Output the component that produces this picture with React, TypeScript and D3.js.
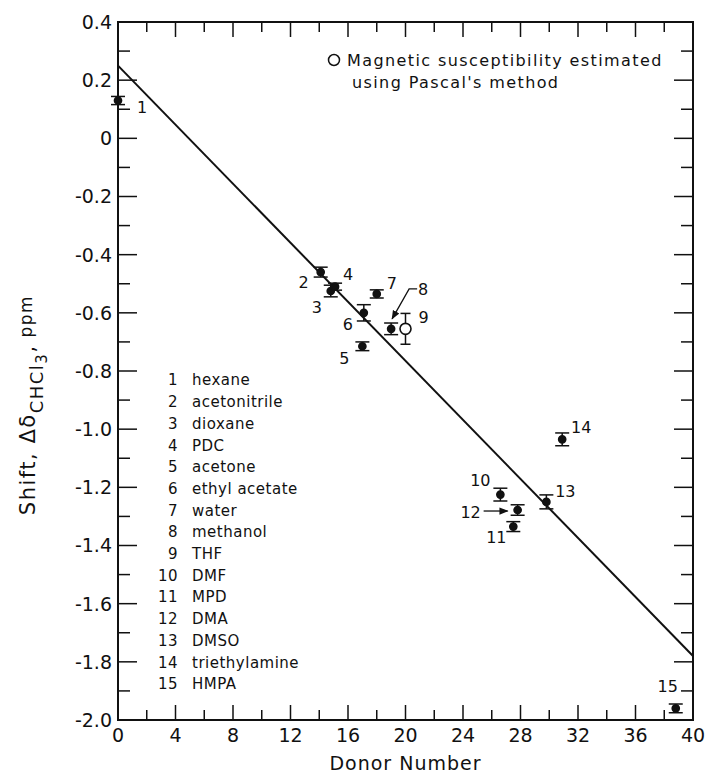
import React from "react";
import * as d3 from "d3";

const solvents = [
  "hexane", "acetonitrile", "dioxane", "PDC", "acetone", "ethyl acetate", "water",
  "methanol", "THF", "DMF", "MPD", "DMA", "DMSO", "triethylamine", "HMPA",
];
const donorNumbers = [0, 14.1, 14.8, 15.1, 17.0, 17.1, 18.0, 19.0, 20.0, 26.6, 27.5, 27.8, 29.8, 30.9, 38.8];
const shifts = [0.13, -0.46, -0.525, -0.51, -0.715, -0.6, -0.535, -0.655, -0.655, -1.225, -1.335, -1.278, -1.25, -1.035, -1.96];
const shiftErrors = [0.014, 0.017, 0.02, 0.012, 0.015, 0.028, 0.014, 0.02, 0.053, 0.022, 0.017, 0.018, 0.024, 0.022, 0.015];
// THF: susceptibility from Pascal's method (open symbol)
const pascalEstimated = ["THF"];

// least squares line drawn through the points
const fitDonor = [0, 40];
const fitShift = [0.25, -1.78];

const xTickLabels = ["0", "4", "8", "12", "16", "20", "24", "28", "32", "36", "40"];
const yTickLabels = ["0.4", "0.2", "0", "-0.2", "-0.4", "-0.6", "-0.8", "-1.0", "-1.2", "-1.4", "-1.6", "-1.8", "-2.0"];

// where each point number sits relative to its point (px)
const labelOffsets: [number, number][] = [
  [24, 7], [-17, 10], [-14, 16], [13, -12], [-18, 12], [-16, 11], [15, -11],
  [32, -40], [18, -12], [-20, -14], [-17, 11], [-47, 2], [19, -11], [19, -12], [-8, -22],
];

const W = 713;
const H = 780;
const margin = { top: 22, right: 20, bottom: 60, left: 118 };
const font = "'DejaVu Sans', sans-serif";

export default function App() {
  const x = d3.scaleLinear().domain([0, 40]).range([margin.left, W - margin.right]);
  const y = d3.scaleLinear().domain([-2.0, 0.4]).range([H - margin.bottom, margin.top]);
  const [x0, x1] = x.range();
  const [y0, y1] = y.range();

  const points = solvents.map((name, i) => ({
    name,
    n: i + 1,
    dn: donorNumbers[i],
    shift: shifts[i],
    err: shiftErrors[i],
    open: pascalEstimated.includes(name),
    off: labelOffsets[i],
  }));

  const line = d3
    .line<number>()
    .x((d) => x(d))
    .y((_, i) => y(fitShift[i]));

  const xTicks = x.ticks(20);
  const yTicks = y.ticks(24);
  const isMajorX = (v: number) => Math.abs(v / 4 - Math.round(v / 4)) < 1e-6;
  const isMajorY = (v: number) => Math.abs(v / 0.2 - Math.round(v / 0.2)) < 1e-6;

  const p8 = points[7];
  const p12 = points[11];

  return (
    <svg
      width={W}
      height={H}
      style={{ position: "absolute", left: 0, top: 0, background: "#fff" }}
      fontFamily={font}
    >
      <defs>
        <marker id="arr" viewBox="0 0 10 10" refX="9" refY="5" markerWidth="7" markerHeight="7" orient="auto">
          <path d="M0,1 L10,5 L0,9 z" fill="#111" />
        </marker>
      </defs>

      {/* ticks, all pointing inward */}
      <g stroke="#111" strokeWidth={1.5}>
        {xTicks.map((t) => {
          const len = isMajorX(t) ? 15 : 10;
          return (
            <g key={"xt" + t}>
              <line x1={x(t)} x2={x(t)} y1={y0} y2={y0 - len} />
              <line x1={x(t)} x2={x(t)} y1={y1} y2={y1 + len} />
            </g>
          );
        })}
        {yTicks.map((t) => {
          const len = isMajorY(t) ? 19 : 12;
          return (
            <g key={"yt" + t}>
              <line x1={x0} x2={x0 + len} y1={y(t)} y2={y(t)} />
              <line x1={x1} x2={x1 - len} y1={y(t)} y2={y(t)} />
            </g>
          );
        })}
      </g>
      <rect x={x0} y={y1} width={x1 - x0} height={y0 - y1} fill="none" stroke="#111" strokeWidth={2} />

      {/* tick labels */}
      <g fontSize={19} fill="#111">
        {xTickLabels.map((l) => (
          <text key={"xl" + l} x={x(+l)} y={y0 + 22} textAnchor="middle">
            {l}
          </text>
        ))}
        {yTickLabels.map((l) => (
          <text key={"yl" + l} x={x0 - 6} y={y(+l)} dy="0.36em" textAnchor="end">
            {l}
          </text>
        ))}
      </g>

      {/* axis titles */}
      <text x={(x0 + x1) / 2} y={H - 10} textAnchor="middle" fontSize={19} letterSpacing={1} fill="#111">
        Donor Number
      </text>
      <text
        transform={`translate(35,${(y0 + y1) / 2 + 34}) rotate(-90)`}
        textAnchor="middle"
        fontSize={21}
        letterSpacing={1.5}
        fill="#111"
      >
        Shift, Δδ
        <tspan fontSize={18} dy={8}>CHCl</tspan>
        <tspan fontSize={15} dy={4}>3</tspan>
        <tspan dy={-12}>,</tspan>
        <tspan fontSize={17} dy={-3}> ppm</tspan>
      </text>

      {/* fitted line */}
      <path d={line(fitDonor) ?? ""} fill="none" stroke="#111" strokeWidth={2} />

      {/* error bars and points */}
      {points.map((p) => {
        const cx = x(p.dn);
        const cy = y(p.shift);
        const hi = y(p.shift + p.err);
        const lo = y(p.shift - p.err);
        const cap = p.open ? 5 : 7;
        return (
          <g key={p.name} stroke="#111" strokeWidth={1.5}>
            <line x1={cx} x2={cx} y1={hi} y2={lo} />
            <line x1={cx - cap} x2={cx + cap} y1={hi} y2={hi} />
            <line x1={cx - cap} x2={cx + cap} y1={lo} y2={lo} />
            {p.open ? (
              <circle cx={cx} cy={cy} r={5.5} fill="#fff" strokeWidth={1.6} />
            ) : (
              <circle cx={cx} cy={cy} r={3.6} fill="#111" />
            )}
          </g>
        );
      })}

      {/* point numbers */}
      <g fontSize={16} fill="#111">
        {points.map((p) => (
          <text key={"n" + p.n} x={x(p.dn) + p.off[0]} y={y(p.shift) + p.off[1]} dy="0.36em" textAnchor="middle">
            {p.n}
          </text>
        ))}
      </g>

      {/* leaders for 8 and 12 */}
      <path
        d={`M${x(p8.dn) + 26},${y(p8.shift) - 40} L${x(p8.dn) + 18},${y(p8.shift) - 40} L${x(p8.dn) + 1},${y(p8.shift) - 10}`}
        fill="none"
        stroke="#111"
        strokeWidth={1.3}
        markerEnd="url(#arr)"
      />
      <line
        x1={x(p12.dn) - 34}
        x2={x(p12.dn) - 10}
        y1={y(p12.shift) + 1}
        y2={y(p12.shift) + 1}
        stroke="#111"
        strokeWidth={1.3}
        markerEnd="url(#arr)"
      />

      {/* solvent key */}
      <g fontSize={15} letterSpacing={0.5} fill="#111">
        {points.map((p, i) => (
          <g key={"k" + p.n}>
            <text x={178} y={380 + i * 21.7} dy="0.36em" textAnchor="end">
              {p.n}
            </text>
            <text x={192} y={380 + i * 21.7} dy="0.36em">
              {p.name}
            </text>
          </g>
        ))}
      </g>

      {/* open symbol note */}
      <g fontSize={16} letterSpacing={1.4} fill="#111">
        <circle cx={334} cy={60} r={5.5} fill="#fff" stroke="#111" strokeWidth={1.5} />
        <text x={347} y={60} dy="0.36em">
          Magnetic susceptibility estimated
        </text>
        <text x={352} y={82} dy="0.36em">
          using Pascal's method
        </text>
      </g>
    </svg>
  );
}
